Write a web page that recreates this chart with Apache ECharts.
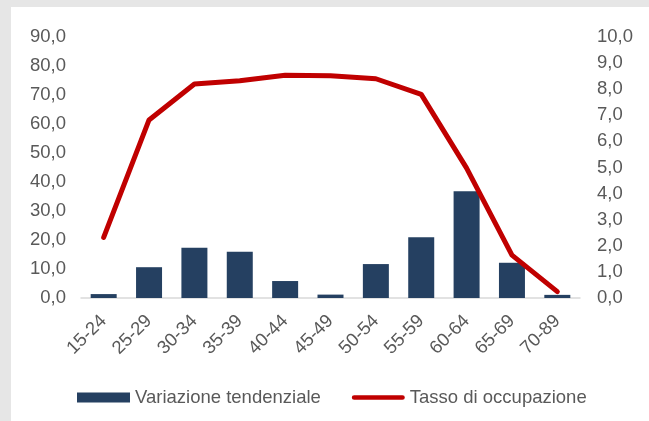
<!DOCTYPE html>
<html>
<head>
<meta charset="utf-8">
<script src="https://cdn.jsdelivr.net/npm/echarts@6/dist/echarts.min.js"></script>
<style>
  html, body { margin: 0; padding: 0; background: #e6e6e6; }
  #main { position: absolute; left: 11px; top: 7px; width: 638px; height: 414px; background: #ffffff; }
</style>
</head>
<body>
<div id="main"></div>
<script>
// classi di età
var categories = ['15-24', '25-29', '30-34', '35-39', '40-44', '45-49', '50-54', '55-59', '60-64', '65-69', '70-89'];
// variazione tendenziale (asse destro)
var variazione = [0.15, 1.18, 1.93, 1.77, 0.65, 0.13, 1.30, 2.33, 4.09, 1.35, 0.12];
// tasso di occupazione (asse sinistro)
var tasso = [20.9, 61.4, 73.8, 74.9, 76.8, 76.6, 75.6, 70.2, 44.8, 14.8, 2.2];

var labelColor = '#595959';
var fontFamily = 'Liberation Sans, Arial, sans-serif';
var fontSize = 18.5;

function fmt(v) {
  return v.toFixed(1).replace('.', ',');
}

var myChart = echarts.init(document.getElementById('main'));
var option = {
  animation: false,
  textStyle: { fontFamily: fontFamily },
  grid: { left: 70, right: 69, top: 30, bottom: 123 },
  legend: {
    data: [
      { name: 'Variazione tendenziale', icon: 'rect' },
      // linea spessa con estremi arrotondati
      { name: 'Tasso di occupazione', icon: 'path://M2.5,0 h51 a2.5,2.5 0 0 1 0,5 h-51 a2.5,2.5 0 0 1 0,-5z' }
    ],
    symbolKeepAspect: true,
    left: 61,
    top: 376,
    itemWidth: 53,
    itemHeight: 10,
    itemGap: 31,
    textStyle: { color: labelColor, fontSize: fontSize, fontFamily: fontFamily }
  },
  xAxis: {
    type: 'category',
    data: categories,
    axisLine: { lineStyle: { color: '#d9d9d9', width: 1.5 } },
    axisTick: { show: false },
    axisLabel: { rotate: 45, color: labelColor, fontSize: fontSize, margin: 20, interval: 0 }
  },
  yAxis: [
    {
      type: 'value',
      min: 0, max: 90, interval: 10,
      splitLine: { show: false },
      axisLine: { show: false },
      axisTick: { show: false },
      axisLabel: { color: labelColor, fontSize: fontSize, margin: 15, formatter: fmt }
    },
    {
      type: 'value',
      min: 0, max: 10, interval: 1,
      splitLine: { show: false },
      axisLine: { show: false },
      axisTick: { show: false },
      axisLabel: { color: labelColor, fontSize: fontSize, margin: 17, formatter: fmt }
    }
  ],
  series: [
    {
      name: 'Variazione tendenziale',
      type: 'bar',
      yAxisIndex: 1,
      data: variazione,
      barWidth: 26,
      itemStyle: { color: '#254061' }
    },
    {
      name: 'Tasso di occupazione',
      type: 'line',
      yAxisIndex: 0,
      data: tasso,
      symbol: 'none',
      lineStyle: { color: '#c00000', width: 5, cap: 'round', join: 'round' },
      itemStyle: { color: '#c00000' }
    }
  ]
};
myChart.setOption(option);
</script>
</body>
</html>
